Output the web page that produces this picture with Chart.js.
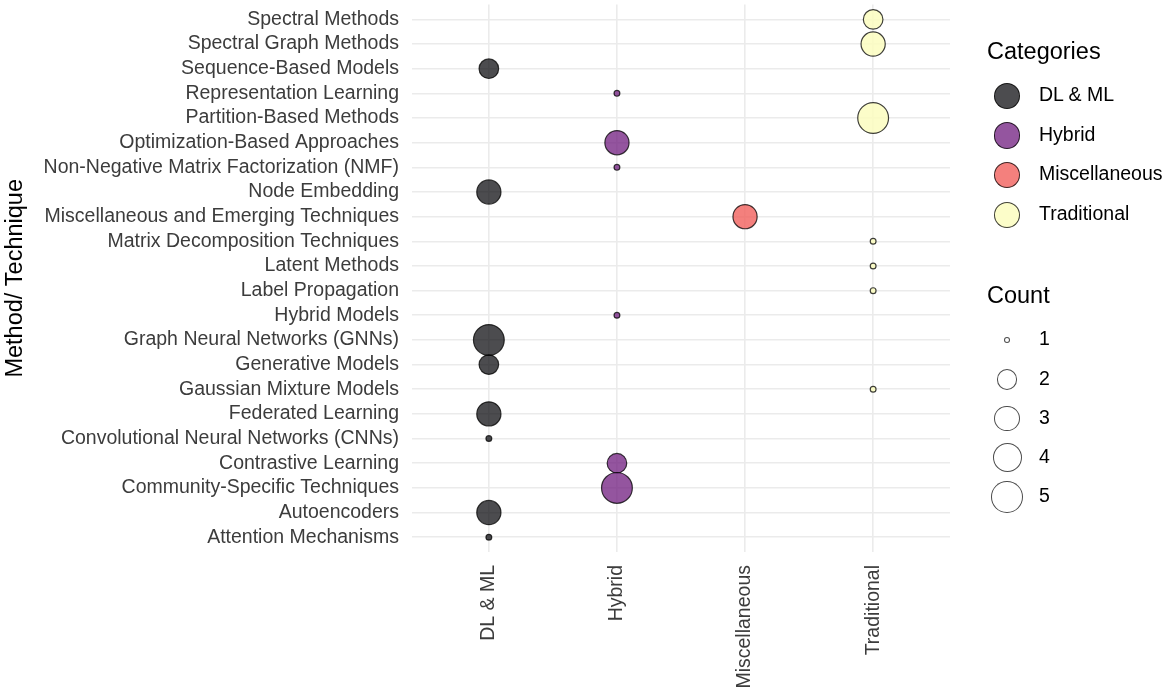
<!DOCTYPE html>
<html>
<head>
<meta charset="utf-8">
<script src="https://cdn.jsdelivr.net/npm/chart.js@4/dist/chart.umd.min.js"></script>
<style>
  html, body { margin: 0; padding: 0; background: #fff; overflow: hidden; }
  #wrap { position: relative; width: 1170px; height: 694px; overflow: hidden; font-family: "Liberation Sans", Arial, sans-serif; }
  #c { position: absolute; left: 0; top: -12px; }
  .lg-title { position: absolute; left: 987px; font-size: 23.5px; color: #000; line-height: 1; }
  .lg-key { position: absolute; border-radius: 50%; box-sizing: border-box; }
  .lg-lab { position: absolute; left: 1039px; font-size: 19.5px; color: #000; line-height: 1; }
</style>
</head>
<body>
<div id="wrap">
  <canvas id="c" width="1170" height="706"></canvas>
  <div id="legend"></div>
</div>
<script>
// ---- data ----
const groups = ["DL & ML", "Hybrid", "Miscellaneous", "Traditional"];
const methods = [
  "Spectral Methods",
  "Spectral Graph Methods",
  "Sequence-Based Models",
  "Representation Learning",
  "Partition-Based Methods",
  "Optimization-Based Approaches",
  "Non-Negative Matrix Factorization (NMF)",
  "Node Embedding",
  "Miscellaneous and Emerging Techniques",
  "Matrix Decomposition Techniques",
  "Latent Methods",
  "Label Propagation",
  "Hybrid Models",
  "Graph Neural Networks (GNNs)",
  "Generative Models",
  "Gaussian Mixture Models",
  "Federated Learning",
  "Convolutional Neural Networks (CNNs)",
  "Contrastive Learning",
  "Community-Specific Techniques",
  "Autoencoders",
  "Attention Mechanisms"
];
const methodGroup = [
  "Traditional", "Traditional", "DL & ML", "Hybrid", "Traditional",
  "Hybrid", "Hybrid", "DL & ML", "Miscellaneous", "Traditional",
  "Traditional", "Traditional", "Hybrid", "DL & ML", "DL & ML",
  "Traditional", "DL & ML", "DL & ML", "Hybrid", "Hybrid",
  "DL & ML", "DL & ML"
];
const methodCount = [
  2, 3, 2, 1, 5,
  3, 1, 3, 3, 1,
  1, 1, 1, 5, 2,
  1, 3, 1, 2, 5,
  3, 1
];
const countLevels = [1, 2, 3, 4, 5];

// ---- styles ----
const groupColors = {
  "DL & ML": "rgba(0,0,4,0.7)",
  "Hybrid": "rgba(114,31,129,0.76)",
  "Miscellaneous": "rgba(241,96,93,0.8)",
  "Traditional": "rgba(252,253,191,0.85)"
};
const strokeColor = "rgba(0,0,0,0.75)";
// pixel radius per count level (size scale)
const sizeRadius = { 1: 2.9, 2: 9.8, 3: 12.1, 4: 14.0, 5: 15.4 };

const datasets = groups.map((g, gi) => ({
  label: g,
  data: methods.map((m, i) => methodGroup[i] === g ? { x: gi, y: i, r: sizeRadius[methodCount[i]] } : null).filter(Boolean),
  backgroundColor: groupColors[g],
  borderColor: strokeColor,
  borderWidth: 1.2,
  hoverRadius: 0
}));

const FONT = "'Liberation Sans', Arial, sans-serif";

new Chart(document.getElementById('c'), {
  type: 'bubble',
  data: { datasets },
  options: {
    responsive: false,
    animation: false,
    events: [],
    layout: { padding: { left: 0, top: 4, right: 220, bottom: 0 } },
    plugins: { legend: { display: false }, tooltip: { enabled: false } },
    scales: {
      x: {
        type: 'linear',
        min: -0.6, max: groups.length - 0.4,
        afterBuildTicks: s => { s.ticks = groups.map((g, i) => ({ value: i })); },
        afterFit: s => { s.height = 142; s.paddingLeft = 0; s.paddingRight = 0; },
        grid: { color: '#EBEBEB', lineWidth: 1.6, drawTicks: false },
        border: { display: false },
        ticks: {
          autoSkip: false, minRotation: 90, maxRotation: 90, padding: 13,
          color: '#3C3C3C', font: { family: FONT, size: 19.5 },
          callback: v => groups[v]
        }
      },
      y: {
        type: 'linear',
        reverse: true,
        min: -0.6, max: methods.length - 0.4,
        afterBuildTicks: s => { s.ticks = methods.map((m, i) => ({ value: i })); },
        afterFit: s => { s.width = 412; s.paddingTop = 0; s.paddingBottom = 0; },
        grid: { color: '#EBEBEB', lineWidth: 1.6, drawTicks: false },
        border: { display: false },
        ticks: {
          autoSkip: false, padding: 13,
          color: '#3C3C3C', font: { family: FONT, size: 19.5 },
          callback: v => methods[v]
        },
        title: {
          display: true, text: 'Method/ Technique', color: '#000',
          font: { family: FONT, size: 23.5 }, padding: { top: 1, bottom: 0 }
        }
      }
    }
  }
});

// ---- legend (HTML) ----
const lg = document.getElementById('legend');
function add(html) { lg.insertAdjacentHTML('beforeend', html); }
function circle(cx, cy, r, fill, border) {
  add(`<div class="lg-key" style="left:${cx - r}px;top:${cy - r}px;width:${2 * r}px;height:${2 * r}px;background:${fill};border:1.2px solid ${border};"></div>`);
}
function label(cy, text, cls, size) {
  add(`<div class="${cls}" style="top:${cy - size * 0.55}px;">${text.replace(/&/g, '&amp;')}</div>`);
}
label(53, "Categories", "lg-title", 23.5);
groups.forEach((g, i) => {
  const cy = 96 + i * 39.6;
  circle(1007, cy, 13.3, groupColors[g], strokeColor);
  label(cy, g, "lg-lab", 19.5);
});
label(297, "Count", "lg-title", 23.5);
countLevels.forEach((c, i) => {
  const cy = 340 + i * 39.3;
  const r = sizeRadius[c] + 0.5;
  circle(1007, cy, r, "#fff", "rgba(0,0,0,0.7)");
  label(cy, String(c), "lg-lab", 19.5);
});
</script>
</body>
</html>
